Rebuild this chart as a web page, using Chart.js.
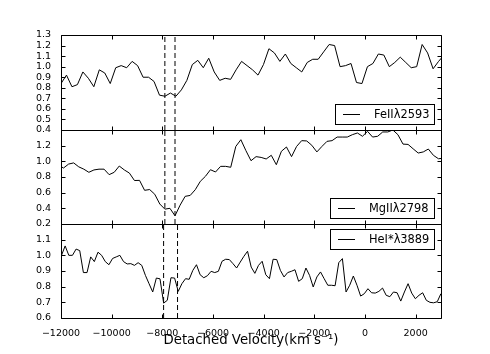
<!DOCTYPE html>
<html>
<head>
<meta charset="utf-8">
<script src="https://cdn.jsdelivr.net/npm/chart.js@4.4.0/dist/chart.umd.min.js"></script>
<style>
  html, body { margin: 0; padding: 0; background: #fff; }
  #wrap { position: relative; width: 490px; height: 354px; }
  #wrap canvas { position: absolute; left: 0; top: 0; }
</style>
</head>
<body>
<div id="wrap">
  <canvas id="panelFe" width="490" height="354"></canvas>
  <canvas id="panelMg" width="490" height="354"></canvas>
  <canvas id="panelHe" width="490" height="354"></canvas>
</div>
<script>
// FeII 2593 (velocity in km/s, normalised flux)
const velFe = [-12000, -11784, -11568, -11352, -11136, -10920, -10704, -10488, -10272, -10056,
  -9840, -9624, -9408, -9192, -8976, -8760, -8544, -8328, -8112, -7896,
  -7680, -7464, -7248, -7032, -6816, -6600, -6384, -6168, -5952, -5736,
  -5520, -5304, -5088, -4872, -4656, -4440, -4224, -4008, -3792, -3576,
  -3360, -3144, -2928, -2712, -2496, -2280, -2064, -1848, -1632, -1416,
  -1200, -984, -768, -552, -336, -120, 96, 312, 528, 744,
  960, 1176, 1392, 1608, 1824, 2040, 2256, 2472, 2688, 2904, 3120];
const fluxFe = [0.84, 0.92, 0.81, 0.83, 0.95, 0.89, 0.81, 0.97, 0.94, 0.84,
  0.99, 1.01, 0.99, 1.05, 1.01, 0.90, 0.90, 0.86, 0.73, 0.72,
  0.75, 0.72, 0.78, 0.87, 1.02, 1.06, 0.99, 1.08, 0.95, 0.87,
  0.89, 0.88, 0.97, 1.05, 1.01, 0.97, 0.92, 1.02, 1.17, 1.13,
  1.05, 1.12, 1.03, 0.99, 0.95, 1.04, 1.07, 1.07, 1.14, 1.21,
  1.20, 1.00, 1.01, 1.03, 0.85, 0.84, 1.00, 1.03, 1.12, 1.11,
  1.00, 1.04, 1.09, 1.04, 0.99, 1.00, 1.21, 1.13, 0.98, 1.05, 1.11];

// MgII 2798
const velMg = [-12100, -11900, -11700, -11500, -11300, -11100, -10900, -10700, -10500, -10300,
  -10100, -9900, -9700, -9500, -9300, -9100, -8900, -8700, -8500, -8300,
  -8100, -7900, -7700, -7500, -7300, -7100, -6900, -6700, -6500, -6300,
  -6100, -5900, -5700, -5500, -5300, -5100, -4900, -4700, -4500, -4300,
  -4100, -3900, -3700, -3500, -3300, -3100, -2900, -2700, -2500, -2300,
  -2100, -1900, -1700, -1500, -1300, -1100, -900, -700, -500, -300,
  -100, 100, 300, 500, 700, 900, 1100, 1300, 1500, 1700,
  1900, 2100, 2300, 2500, 2700, 2900, 3100];
const fluxMg = [0.95, 0.915, 0.965, 0.98, 0.93, 0.90, 0.86, 0.89, 0.90, 0.90,
  0.83, 0.86, 0.94, 0.89, 0.85, 0.755, 0.757, 0.63, 0.64, 0.58,
  0.455, 0.39, 0.40, 0.305, 0.44, 0.553, 0.565, 0.638, 0.745, 0.808,
  0.893, 0.864, 0.936, 0.936, 0.924, 1.19, 1.276, 1.136, 1.008, 1.06,
  1.05, 1.03, 1.077, 0.957, 1.128, 1.183, 1.06, 1.19, 1.264, 1.26,
  1.205, 1.12, 1.19, 1.255, 1.264, 1.31, 1.31, 1.31, 1.34, 1.362,
  1.32, 1.383, 1.31, 1.32, 1.375, 1.375, 1.40, 1.34, 1.22, 1.216,
  1.16, 1.106, 1.12, 1.157, 1.077, 1.033, 1.04];

// HeI* 3889
const velHe = [-11980, -11836, -11692, -11548, -11404, -11260, -11116, -10972, -10828, -10684,
  -10540, -10396, -10252, -10108, -9964, -9820, -9676, -9532, -9388, -9244,
  -9100, -8956, -8812, -8668, -8524, -8380, -8236, -8092, -7948, -7804,
  -7660, -7516, -7372, -7228, -7084, -6940, -6796, -6652, -6508, -6364,
  -6220, -6076, -5932, -5788, -5644, -5500, -5356, -5212, -5068, -4924,
  -4780, -4636, -4492, -4348, -4204, -4060, -3916, -3772, -3628, -3484,
  -3340, -3196, -3052, -2908, -2764, -2620, -2476, -2332, -2188, -2044,
  -1900, -1756, -1612, -1468, -1324, -1180, -1036, -892, -748, -604,
  -460, -316, -172, -28, 116, 260, 404, 548, 692, 836,
  980, 1124, 1268, 1412, 1556, 1700, 1844, 1988, 2132, 2276,
  2420, 2564, 2708, 2852, 2996];
const fluxHe = [1.00, 1.06, 1.00, 1.00, 1.04, 1.03, 0.89, 0.89, 0.99, 0.96,
  1.02, 1.00, 0.96, 0.94, 0.98, 0.99, 1.00, 0.96, 0.945, 0.947,
  0.936, 0.953, 0.936, 0.872, 0.819, 0.766, 0.855, 0.85, 0.695, 0.713,
  0.857, 0.855, 0.77, 0.819, 0.851, 0.847, 0.904, 0.94, 0.876, 0.857,
  0.87, 0.898, 0.89, 0.898, 0.962, 0.975, 0.973, 0.947, 0.919, 0.957,
  0.994, 1.026, 0.925, 0.885, 0.936, 0.962, 0.876, 0.851, 0.975, 0.973,
  0.904, 0.862, 0.89, 0.898, 0.908, 0.834, 0.851, 0.919, 0.872, 0.798,
  0.862, 0.894, 0.851, 0.809, 0.809, 0.806, 0.953, 0.979, 0.766, 0.809,
  0.868, 0.809, 0.74, 0.755, 0.787, 0.761, 0.759, 0.77, 0.791, 0.745,
  0.736, 0.766, 0.761, 0.708, 0.766, 0.819, 0.759, 0.723, 0.745, 0.761,
  0.713, 0.70, 0.697, 0.704, 0.755];

// dashed velocity markers
const marksFeMg = [-7900, -7500];
const marksHe = [-7950, -7400];

// tick values
const xTicks = [-12000, -10000, -8000, -6000, -4000, -2000, 0, 2000];
const yTicksFe = [0.4, 0.5, 0.6, 0.7, 0.8, 0.9, 1.0, 1.1, 1.2, 1.3];
const yTicksMg = [0.2, 0.4, 0.6, 0.8, 1.0, 1.2, 1.4];
const yTicksHe = [0.6, 0.7, 0.8, 0.9, 1.0, 1.1, 1.2];

const FONT = '"DejaVu Sans", sans-serif';

// matplotlib style frame with inward ticks on all four sides
const frameTicks = {
  id: 'frameTicks',
  afterDatasetsDraw(chart) {
    const { ctx, chartArea: a, scales: { x, y } } = chart;
    const L = Math.round(a.left) + 0.5, R = Math.round(a.right) + 0.5;
    const T = Math.round(a.top) + 0.5, B = Math.round(a.bottom) + 0.5;
    ctx.save();
    ctx.strokeStyle = '#000';
    ctx.lineWidth = 1;
    ctx.beginPath();
    x.ticks.forEach(t => {
      const px = Math.round(x.getPixelForValue(t.value)) + 0.5;
      ctx.moveTo(px, B); ctx.lineTo(px, B - 4);
      ctx.moveTo(px, T); ctx.lineTo(px, T + 4);
    });
    y.ticks.forEach(t => {
      const py = Math.round(y.getPixelForValue(t.value)) + 0.5;
      ctx.moveTo(L, py); ctx.lineTo(L + 4, py);
      ctx.moveTo(R, py); ctx.lineTo(R - 4, py);
    });
    ctx.rect(L, T, R - L, B - T);
    ctx.stroke();
    ctx.restore();
  }
};

// boxed legend inside the axes
const boxLegend = {
  id: 'boxLegend',
  afterDraw(chart, args, opts) {
    const { ctx, chartArea: a } = chart;
    const text = chart.data.datasets[0].label;
    ctx.save();
    ctx.font = '11.4px ' + FONT;
    const tw = ctx.measureText(text).width;
    const w = Math.round(39 + tw + 5), h = 20;
    const x0 = Math.round(a.right - 7 - w);
    const y0 = opts.loc === 'upper' ? Math.round(a.top + 5) : Math.round(a.bottom - 6 - h);
    ctx.fillStyle = '#fff';
    ctx.fillRect(x0, y0, w, h);
    ctx.strokeStyle = '#000';
    ctx.lineWidth = 1;
    ctx.strokeRect(x0 + 0.5, y0 + 0.5, w, h);
    ctx.beginPath();
    ctx.moveTo(x0 + 8, y0 + h / 2 + 0.5);
    ctx.lineTo(x0 + 25, y0 + h / 2 + 0.5);
    ctx.stroke();
    ctx.fillStyle = '#000';
    ctx.textBaseline = 'middle';
    ctx.fillText(text, x0 + 39, y0 + h / 2 + 1);
    ctx.restore();
  }
};

function makePanel(id, p) {
  const datasets = [{
    label: p.label,
    data: p.vel.map((v, i) => ({ x: v, y: p.flux[i] })),
    borderColor: '#000',
    borderWidth: 1,
    pointRadius: 0,
    tension: 0
  }];
  p.marks.forEach(m => datasets.push({
    label: 'mark',
    data: [{ x: m, y: p.yMin }, { x: m, y: p.yMax }],
    borderColor: '#000',
    borderWidth: 1,
    borderDash: [5, 3],
    pointRadius: 0
  }));

  new Chart(document.getElementById(id), {
    type: 'line',
    data: { datasets },
    options: {
      responsive: false,
      animation: false,
      devicePixelRatio: 1,
      layout: { padding: { left: 0, right: 49, top: p.top, bottom: p.bottom } },
      plugins: {
        legend: { display: false },
        tooltip: { enabled: false },
        boxLegend: { loc: p.legendLoc }
      },
      scales: {
        x: {
          type: 'linear',
          min: -12000,
          max: 3000,
          grid: { display: false },
          border: { display: false },
          afterBuildTicks: s => { s.ticks = xTicks.map(v => ({ value: v })); },
          afterFit: s => { s.height = p.showX ? 36 : 0; },
          ticks: {
            display: p.showX,
            autoSkip: false,
            padding: 2,
            color: '#000',
            font: { family: FONT, size: 9.5 },
            maxRotation: 0,
            callback: v => (v < 0 ? '\u2212' + (-v) : String(v))
          },
          title: {
            display: p.showX,
            text: 'Detached Velocity(km s\u207B\u00B9)',
            color: '#000',
            font: { family: FONT, size: 13.3 },
            padding: { top: 0, bottom: 5 }
          }
        },
        y: {
          min: p.yMin,
          max: p.yMax,
          grid: { display: false },
          border: { display: false },
          afterBuildTicks: s => { s.ticks = p.yTicks.map(v => ({ value: v })); },
          afterFit: s => { s.width = 61; },
          ticks: {
            autoSkip: false,
            padding: 2,
            color: '#000',
            font: { family: FONT, size: 9.5 },
            callback: v => (p.hideTop && Math.abs(v - p.yMax) < 1e-6 ? '' : v.toFixed(1))
          }
        }
      }
    },
    plugins: [frameTicks, boxLegend]
  });
}

makePanel('panelFe', {
  label: 'FeII\u03BB2593', vel: velFe, flux: fluxFe, marks: marksFeMg,
  yMin: 0.4, yMax: 1.3, yTicks: yTicksFe, hideTop: false,
  top: 35, bottom: 224, legendLoc: 'lower', showX: false
});
makePanel('panelMg', {
  label: 'MgII\u03BB2798', vel: velMg, flux: fluxMg, marks: marksFeMg,
  yMin: 0.2, yMax: 1.4, yTicks: yTicksMg, hideTop: true,
  top: 130, bottom: 130, legendLoc: 'lower', showX: false
});
makePanel('panelHe', {
  label: 'HeI*\u03BB3889', vel: velHe, flux: fluxHe, marks: marksHe,
  yMin: 0.6, yMax: 1.2, yTicks: yTicksHe, hideTop: true,
  top: 224, bottom: 0, legendLoc: 'upper', showX: true
});
</script>
</body>
</html>
